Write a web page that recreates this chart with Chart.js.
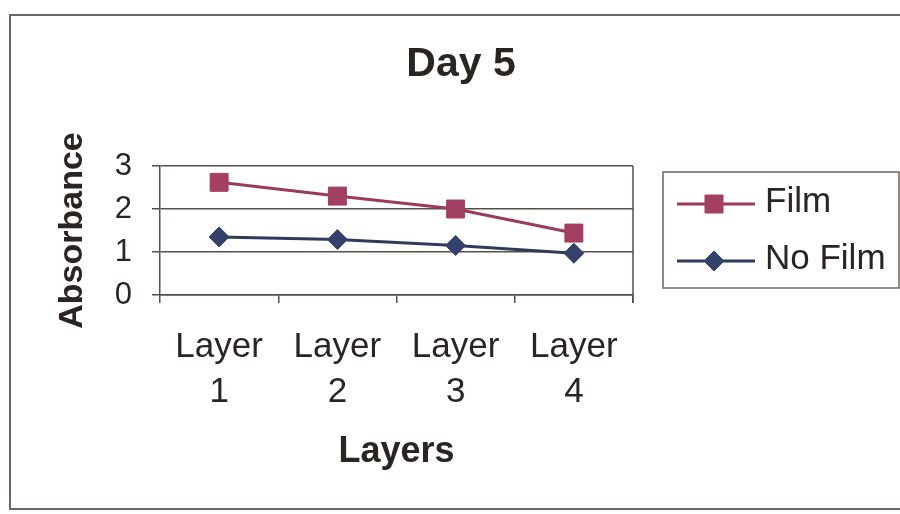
<!DOCTYPE html>
<html>
<head>
<meta charset="utf-8">
<script src="https://cdn.jsdelivr.net/npm/chart.js@4.4.1/dist/chart.umd.min.js"></script>
<style>
  html, body { margin: 0; padding: 0; background: #fff; }
  #wrap { position: relative; width: 900px; height: 514px; overflow: hidden; }
  #frame { position: absolute; left: 9px; top: 14px; width: 1000px; height: 496px;
           border-left: 2px solid #6e665c; border-top: 2px solid #6e665c; border-bottom: 2px solid #6e665c; box-sizing: border-box; }
  canvas { position: absolute; left: 0; top: 0; }
</style>
</head>
<body>
<div id="wrap">
  <div id="frame"></div>
  <canvas id="c" width="900" height="514"></canvas>
</div>
<script>
const chartTitle = 'Day 5';
const categories = [['Layer', '1'], ['Layer', '2'], ['Layer', '3'], ['Layer', '4']];
const seriesNames = ['Film', 'No Film'];
const filmValues = [2.62, 2.30, 2.00, 1.44];
const noFilmValues = [1.35, 1.29, 1.15, 0.97];
const yTicks = [0, 1, 2, 3];
const xAxisTitle = 'Layers';
const yAxisTitle = 'Absorbance';

const FILM_LINE = '#9a3b5b';
const FILM_FILL = '#a33f62';
const NOFILM_LINE = '#2f3b5c';
const NOFILM_FILL = '#34416a';
const GRID = '#574f46';
const TEXT = '#2b2521';
const FONT = '"Liberation Sans", Arial, sans-serif';

const extrasPlugin = {
  id: 'extras',
  afterDraw(chart) {
    const ctx = chart.ctx;
    const a = chart.chartArea;
    ctx.save();
    // right border of plot area
    ctx.strokeStyle = GRID;
    ctx.lineWidth = 1.5;
    ctx.beginPath();
    ctx.moveTo(a.right, a.top);
    ctx.lineTo(a.right, a.bottom + 8);
    ctx.stroke();
    // title
    ctx.fillStyle = TEXT;
    ctx.font = 'bold 41px ' + FONT;
    ctx.textAlign = 'center';
    ctx.textBaseline = 'alphabetic';
    ctx.fillText(chartTitle, 461, 76);
    // legend box
    ctx.strokeStyle = '#6e665c';
    ctx.lineWidth = 1.5;
    ctx.strokeRect(663, 172, 236, 116);
    const rows = [
      { y: 204, base: 212 },
      { y: 261, base: 269 }
    ];
    chart.data.datasets.forEach((ds, i) => {
      const r = rows[i];
      ctx.strokeStyle = ds.borderColor;
      ctx.lineWidth = 3;
      ctx.beginPath();
      ctx.moveTo(677, r.y);
      ctx.lineTo(755, r.y);
      ctx.stroke();
      ctx.fillStyle = ds.pointBackgroundColor;
      ctx.strokeStyle = ds.pointBorderColor;
      ctx.lineWidth = 1;
      ctx.beginPath();
      if (ds.pointStyle === 'rect') {
        ctx.rect(714 - 9, r.y - 9, 18, 18);
      } else {
        ctx.moveTo(714, r.y - 10);
        ctx.lineTo(724, r.y);
        ctx.lineTo(714, r.y + 10);
        ctx.lineTo(704, r.y);
        ctx.closePath();
      }
      ctx.fill();
      ctx.stroke();
      ctx.fillStyle = TEXT;
      ctx.font = '35px ' + FONT;
      ctx.textAlign = 'left';
      ctx.textBaseline = 'alphabetic';
      ctx.fillText(ds.label, 765, r.base);
    });
    ctx.restore();
  }
};

new Chart(document.getElementById('c'), {
  type: 'line',
  data: {
    labels: categories,
    datasets: [
      {
        label: seriesNames[0],
        data: filmValues,
        borderColor: FILM_LINE,
        borderWidth: 3,
        pointStyle: 'rect',
        pointRadius: 12.7,
        pointHoverRadius: 12.7,
        pointBackgroundColor: FILM_FILL,
        pointBorderColor: FILM_FILL,
        pointBorderWidth: 1,
        tension: 0
      },
      {
        label: seriesNames[1],
        data: noFilmValues,
        borderColor: NOFILM_LINE,
        borderWidth: 3,
        pointStyle: 'rectRot',
        pointRadius: 10,
        pointHoverRadius: 10,
        pointBackgroundColor: NOFILM_FILL,
        pointBorderColor: NOFILM_FILL,
        pointBorderWidth: 1,
        tension: 0
      }
    ]
  },
  options: {
    responsive: false,
    animation: false,
    events: [],
    layout: { padding: { left: 52, top: 166, right: 267, bottom: 40 } },
    plugins: {
      legend: { display: false },
      title: { display: false },
      tooltip: { enabled: false }
    },
    scales: {
      x: {
        type: 'category',
        offset: true,
        grid: {
          offset: true,
          drawOnChartArea: false,
          drawTicks: true,
          tickLength: 8,
          color: GRID,
          lineWidth: 1.5
        },
        border: { display: true, color: GRID, width: 1.5 },
        ticks: {
          color: TEXT,
          font: { family: FONT, size: 35, lineHeight: 1.29 },
          padding: 22,
          maxRotation: 0,
          autoSkip: false
        },
        title: {
          display: true,
          text: xAxisTitle,
          color: TEXT,
          font: { family: FONT, size: 36, weight: 'bold', lineHeight: 1.2 },
          padding: { top: 0, bottom: 0 }
        },
        afterFit(scale) { scale.height = 179; }
      },
      y: {
        min: 0,
        max: 3,
        afterBuildTicks(scale) { scale.ticks = yTicks.map(v => ({ value: v })); },
        grid: {
          color: GRID,
          lineWidth: 1.5,
          drawTicks: true,
          tickLength: 8
        },
        border: { display: true, color: GRID, width: 1.5 },
        ticks: {
          color: TEXT,
          font: { family: FONT, size: 31 },
          padding: 20
        },
        title: {
          display: true,
          text: yAxisTitle,
          color: TEXT,
          font: { family: FONT, size: 34, weight: 'bold', lineHeight: 1.2 },
          padding: { top: 0, bottom: 0 }
        },
        afterFit(scale) { scale.width = 108; }
      }
    }
  },
  plugins: [extrasPlugin]
});
</script>
</body>
</html>
